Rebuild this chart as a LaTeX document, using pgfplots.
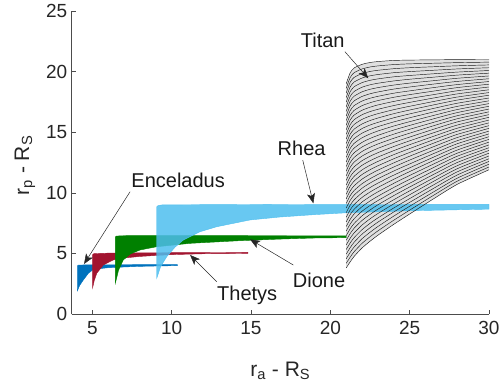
\documentclass[border=0pt]{standalone}
\usepackage{pgfplots}
\pgfplotsset{compat=1.18}
\usepackage{pgfplotstable}
\usepackage{fontspec}
\setmainfont{Liberation Sans}
\usetikzlibrary{arrows.meta}
\definecolor{encc}{RGB}{0,114,189}
\definecolor{tetc}{RGB}{162,20,47}
\definecolor{dioc}{RGB}{0,128,0}
\definecolor{rhec}{RGB}{77,190,238}

\pgfplotstableread{
x c0 c1 c2 c3 c4 c5 c6 c7 c8 c9 c10 c11 c12 c13 c14 c15 c16 c17 c18 c19 c20
21 19.00 18.24 17.48 16.72 15.96 15.20 14.44 13.68 12.92 12.16 11.40 10.64 9.88 9.12 8.36 7.60 6.84 6.08 5.32 4.56 3.80
21.25 19.90 19.12 18.34 17.56 16.78 16.00 15.22 14.44 13.66 12.88 12.10 11.32 10.54 9.76 8.98 8.20 7.42 6.64 5.86 5.08 4.30
21.5 20.30 19.52 18.75 17.97 17.19 16.41 15.64 14.86 14.08 13.30 12.53 11.75 10.97 10.19 9.42 8.64 7.86 7.08 6.30 5.53 4.75
22 20.60 19.84 19.09 18.33 17.57 16.81 16.06 15.30 14.54 13.78 13.03 12.27 11.51 10.75 10.00 9.24 8.48 7.72 6.96 6.21 5.45
22.5 20.75 20.01 19.28 18.54 17.80 17.06 16.33 15.59 14.85 14.11 13.38 12.64 11.90 11.16 10.43 9.69 8.95 8.21 7.48 6.74 6.00
23 20.83 20.11 19.40 18.68 17.96 17.25 16.53 15.81 15.10 14.38 13.67 12.95 12.23 11.51 10.80 10.08 9.36 8.65 7.93 7.22 6.50
24 20.92 20.24 19.57 18.89 18.22 17.54 16.86 16.19 15.51 14.84 14.16 13.48 12.81 12.13 11.46 10.78 10.10 9.43 8.75 8.08 7.40
25 20.95 20.32 19.68 19.05 18.41 17.78 17.14 16.51 15.87 15.24 14.60 13.97 13.33 12.70 12.06 11.43 10.79 10.16 9.52 8.89 8.25
26.5 20.97 20.40 19.82 19.25 18.68 18.10 17.53 16.96 16.38 15.81 15.24 14.66 14.09 13.51 12.94 12.37 11.79 11.22 10.65 10.07 9.50
28 20.99 20.48 19.96 19.45 18.93 18.42 17.90 17.39 16.87 16.36 15.85 15.33 14.82 14.30 13.79 13.27 12.76 12.24 11.73 11.21 10.70
30 21.00 20.55 20.09 19.64 19.18 18.73 18.27 17.82 17.36 16.91 16.45 16.00 15.54 15.09 14.63 14.18 13.72 13.27 12.81 12.36 11.90
}\titan

\pgfplotstableread{
x h0 h1 h2 h3 h4 h5 h6 h7 h8 h9 h10 h11 h12 h13 h14 h15 h16 h17 h18 h19
21 18.62 17.86 17.10 16.34 15.58 14.82 14.06 13.30 12.54 11.78 11.02 10.26 9.50 8.74 7.98 7.22 6.46 5.70 4.94 4.18
21.25 19.51 18.73 17.95 17.17 16.39 15.61 14.83 14.05 13.27 12.49 11.71 10.93 10.15 9.37 8.59 7.81 7.03 6.25 5.47 4.69
21.5 19.91 19.14 18.36 17.58 16.80 16.03 15.25 14.47 13.69 12.92 12.14 11.36 10.58 9.81 9.03 8.25 7.47 6.69 5.92 5.14
22 20.22 19.47 18.71 17.95 17.19 16.44 15.68 14.92 14.16 13.41 12.65 11.89 11.13 10.38 9.62 8.86 8.10 7.34 6.59 5.83
22.5 20.38 19.65 18.91 18.17 17.43 16.70 15.96 15.22 14.48 13.75 13.01 12.27 11.53 10.80 10.06 9.32 8.58 7.85 7.11 6.37
23 20.47 19.76 19.04 18.32 17.61 16.89 16.17 15.46 14.74 14.03 13.31 12.59 11.87 11.16 10.44 9.72 9.01 8.29 7.58 6.86
24 20.58 19.91 19.23 18.56 17.88 17.20 16.53 15.85 15.18 14.50 13.82 13.15 12.47 11.80 11.12 10.44 9.77 9.09 8.42 7.74
25 20.64 20.00 19.37 18.73 18.10 17.46 16.83 16.19 15.56 14.92 14.29 13.65 13.02 12.38 11.75 11.11 10.48 9.84 9.21 8.57
26.5 20.69 20.11 19.54 18.97 18.39 17.82 17.25 16.67 16.10 15.53 14.95 14.38 13.80 13.23 12.66 12.08 11.51 10.94 10.36 9.79
28 20.74 20.22 19.71 19.19 18.68 18.16 17.65 17.13 16.62 16.11 15.59 15.08 14.56 14.05 13.53 13.02 12.50 11.99 11.47 10.96
30 20.78 20.32 19.87 19.41 18.96 18.50 18.05 17.59 17.14 16.68 16.23 15.77 15.32 14.86 14.41 13.95 13.50 13.04 12.59 12.13
}\titanb

\begin{document}
\begin{tikzpicture}
\begin{axis}[
  scale only axis, width=417.3pt, height=303pt,
  xmin=3.7, xmax=30, ymin=0, ymax=25,
  axis x line*=bottom, axis y line*=left,
  axis line style={-, black!70, line width=0.5pt},
  xtick={5,10,...,30}, ytick={0,5,...,25},
  tick align=inside, major tick length=4pt,
  every tick/.style={black!70, line width=0.5pt},
  /pgf/number format/assume math mode=true,
  ticklabel style={font=\fontsize{19}{22}\selectfont, text=black!85},
  xticklabel style={yshift=-4pt},
  yticklabel style={xshift=-1pt},
  xlabel={r\textsubscript{a} - R\textsubscript{S}},
  ylabel={r\textsubscript{p} - R\textsubscript{S}},
  xlabel style={at={(axis description cs:0.5,-0.188)}, anchor=center, font=\fontsize{21}{24}\selectfont, text=black!85},
  ylabel style={at={(axis description cs:-0.112,0.49)}, anchor=center, font=\fontsize{21}{24}\selectfont, text=black!85},
]
% Titan envelope tone
\addplot[fill=black!12, draw=none] coordinates {
(21,19.00)(21.25,19.90)(21.5,20.30)(22,20.60)(22.5,20.75)(23,20.83)(24,20.92)(25,20.95)(26.5,20.97)(28,20.99)(30,21.00)
(30,11.90)(28,10.70)(26.5,9.50)(25,8.25)(24,7.40)(23,6.50)(22.5,6.00)(22,5.45)(21.5,4.75)(21.25,4.30)(21,3.80)} --cycle;
% Enceladus
\addplot[fill=encc, draw=encc, line width=0.4pt] coordinates {
(4.05,1.9)(4.05,3.95)(4.12,4.03)(4.5,4.05)(6,4.06)(8,4.07)(10.36,4.08)
(10.36,3.99)(9,3.96)(8,3.93)(7,3.88)(6,3.82)(5.5,3.75)(5.02,3.63)(4.75,3.36)(4.43,2.8)(4.2,2.35)} --cycle;
% Tethys
\addplot[fill=tetc, draw=tetc, line width=0.4pt] coordinates {
(5.02,2.17)(5.02,4.9)(5.1,4.98)(6,5.02)(10,5.06)(14.8,5.08)
(14.8,5.0)(12,4.97)(10,4.9)(9,4.83)(8,4.75)(7,4.62)(6.32,4.46)(5.69,4.04)(5.28,3.36)(5.12,2.75)} --cycle;
% Dione
\addplot[fill=dioc, draw=dioc, line width=0.4pt] coordinates {
(6.45,2.53)(6.45,6.35)(6.52,6.43)(7,6.46)(10,6.47)(15,6.46)(21,6.45)
(21,6.3)(19,6.27)(16.8,6.18)(14.3,6.05)(11.16,5.83)(9.06,5.55)(8,5.28)(7.4,4.95)(6.95,4.46)(6.65,3.6)} --cycle;
% Rhea
\addplot[fill=rhec, fill opacity=0.85, draw=rhec, line width=0.4pt] coordinates {
(9.06,2.94)(9.06,8.85)(9.15,8.95)(9.4,9.0)(12,9.02)(16,9.04)(21,9.02)(25,9.04)(30,9.05)
(30,8.65)(25,8.52)(21,8.35)(19,8.2)(16.8,8.0)(14.94,7.76)(12.84,7.2)(11.79,6.79)(10.73,6.1)(10.2,5.5)(9.69,4.73)(9.3,3.9)} --cycle;
% Titan curves
\pgfplotsinvokeforeach{0,...,20}{
  \addplot[black!90, line width=0.45pt, smooth, tension=0.4] table[x=x, y=c#1] {\titan};
}
\pgfplotsinvokeforeach{0,...,19}{
  \addplot[black!90, line width=0.45pt, smooth, tension=0.4] table[x=x, y=h#1] {\titanb};
}
% annotations
\tikzset{ann/.style={black!85, line width=0.5pt, -{Stealth[length=10pt, width=8pt, inset=2.5pt]}},
         lab/.style={font=\fontsize{20}{24}\selectfont, text=black!90}}
\draw[ann] (axis cs:7.38,10.09) -- (axis cs:4.48,4.13);
\node[lab] at (axis cs:10.41,11.0) {Enceladus};
\draw[ann] (axis cs:12.84,2.67) -- (axis cs:11.16,4.87);
\node[lab] at (axis cs:14.76,1.5) {Thetys};
\draw[ann] (axis cs:17.67,4.04) -- (axis cs:14.94,6.16);
\node[lab] at (axis cs:19.29,2.8) {Dione};
\draw[ann] (axis cs:18.26,12.7) -- (axis cs:18.93,9.13);
\node[lab] at (axis cs:18.19,13.67) {Rhea};
\draw[ann] (axis cs:20.92,21.64) -- (axis cs:22.39,19.45);
\node[lab] at (axis cs:19.52,22.55) {Titan};
\end{axis}
\pgfresetboundingbox
\path (-71.7pt,-74pt) rectangle (429.3pt,314pt);
\end{tikzpicture}
\end{document}
